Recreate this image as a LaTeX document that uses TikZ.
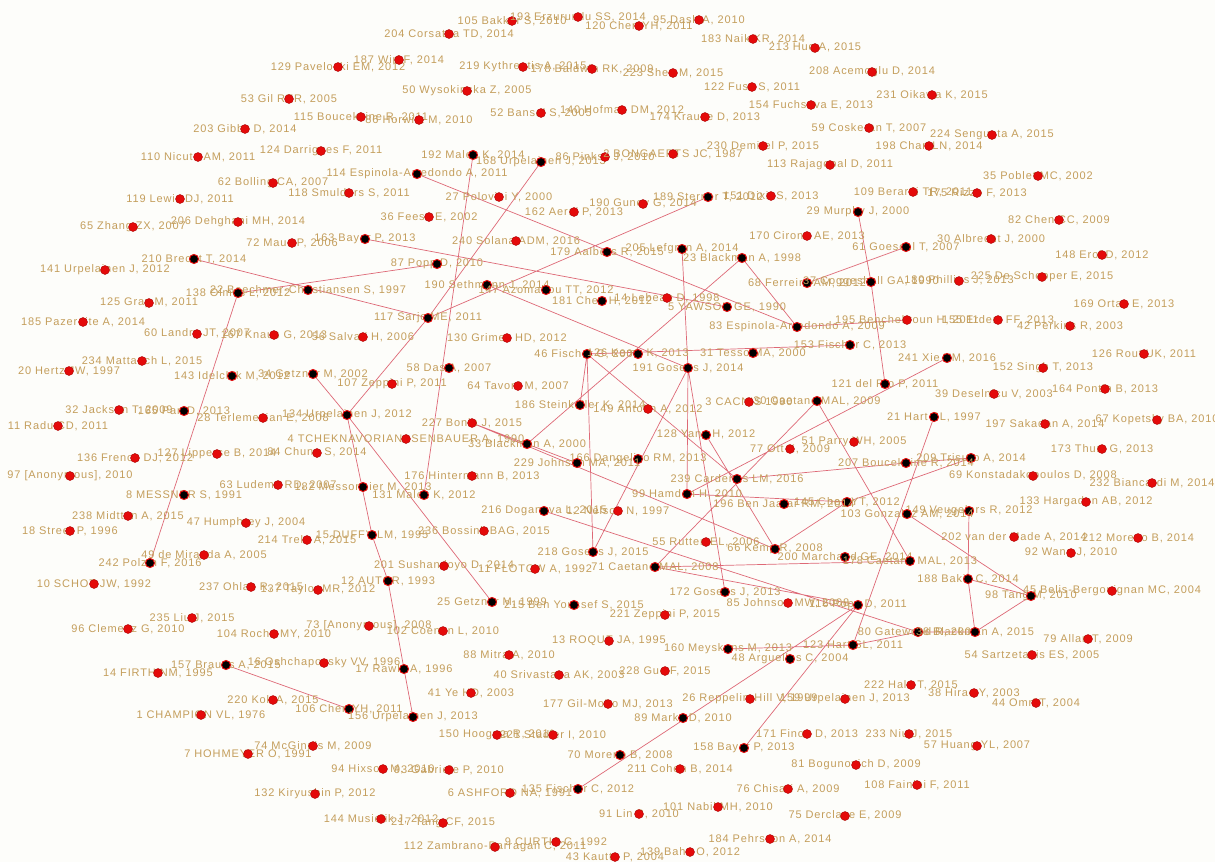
\documentclass[tikz,border=0pt]{standalone}
\usepackage{fontspec}
\setmainfont{Liberation Sans}
\newfontfamily\labfont[LetterSpace=8]{Liberation Sans}
\definecolor{labc}{RGB}{196,158,92}
\definecolor{dotr}{RGB}{228,10,10}
\definecolor{edgec}{RGB}{222,105,118}
\definecolor{bgc}{RGB}{253,253,250}
\pgfdeclarelayer{bg}\pgfdeclarelayer{edges}
\pgfsetlayers{bg,edges,main}
\tikzset{
 lab/.style={text=labc,font=\labfont\fontsize{11}{12}\selectfont,inner sep=0pt},
 rdot/.style={circle,fill=dotr,draw=dotr!75!black,line width=0.4pt,minimum size=9pt,inner sep=0pt},
 bdot/.style={circle,fill=black,draw=dotr,line width=1pt,minimum size=9pt,inner sep=0pt},
 edge/.style={draw=edgec,line width=0.7pt}}
\newcommand\RN[4]{\node[lab] (l#1) at (#2,#3) {#4};\node[rdot] (#1) at (#2,#3) {};}
\newcommand\BN[4]{\node[lab] (l#1) at (#2,#3) {#4};\node[bdot] (#1) at (#2,#3) {};}
\begin{document}
\begin{tikzpicture}[x=1pt,y=-1pt]
\begin{pgfonlayer}{bg}\fill[bgc] (0,0) rectangle (1215,862);\end{pgfonlayer}
\useasboundingbox (0,0) rectangle (1215,862);
\clip (0,0) rectangle (1215,862);
% top
\RN{n105}{512}{21}{105 Bakker S, 2010}
\RN{n193}{578}{17}{193 Erzurumlu SS, 2014}
\RN{n120}{639}{26}{120 Chen YH, 2011}
\RN{n95}{699}{20}{95 Dash A, 2010}
\RN{n183}{753}{39}{183 Naik KR, 2014}
\RN{n213}{815}{48}{213 Huq A, 2015}
\RN{n204}{449}{34}{204 Corsatea TD, 2014}
\RN{n129}{338}{67}{129 Paveloski EM, 2012}
\RN{n187}{399}{60}{187 Wirl F, 2014}
\RN{n219}{523}{67}{219 Kythreotis A, 2015}
\RN{n178b}{592}{69}{178 Baldwin RK, 2009}
\RN{n223}{673}{73}{223 Shen M, 2015}
\RN{n208}{872}{72}{208 Acemoglu D, 2014}
\RN{n53}{289}{99}{53 Gil RER, 2005}
\RN{n50}{467}{91}{50 Wysokinska Z, 2005}
\RN{n122}{752}{87}{122 Fuss S, 2011}
\RN{n231}{932}{95}{231 Oikawa K, 2015}
\RN{n154}{811}{105}{154 Fuchsova E, 2013}
\RN{n52}{541}{113}{52 Bansal S, 2005}
\RN{n140}{622}{110}{140 Hofman DM, 2012}
\RN{n115}{361}{117}{115 Boucekkine R, 2011}
\RN{n86h}{419}{120}{86 Horwitz M, 2010}
\RN{n174}{705}{117}{174 Krause D, 2013}
\RN{n59}{869}{128}{59 Coskeran T, 2007}
\RN{n203}{245}{129}{203 Gibbs D, 2014}
\RN{n224}{992}{135}{224 Sengupta A, 2015}
\RN{n230}{763}{146}{230 Demirel P, 2015}
\RN{n198}{929}{146}{198 Chan LN, 2014}
\RN{n124}{321}{151}{124 Darrigues F, 2011}
\RN{n110}{198}{157}{110 Nicuta AM, 2011}
\BN{n192}{473}{155}{192 Malek K, 2014}
\BN{n168}{541}{162}{168 Urpelainen J, 2013}
\RN{n86}{605}{157}{86 Pinkse J, 2010}
\RN{n2}{673}{154}{2 BONGAERTS JC, 1987}
\RN{n113}{830}{165}{113 Rajagopal D, 2011}
\BN{n114}{417}{174}{114 Espinola-Arredondo A, 2011}
\RN{n35}{1038}{176}{35 Poblet MC, 2002}
\RN{n62}{273}{183}{62 Bolling CA, 2007}
\RN{n109}{913}{192}{109 Berardi TR, 2011}
\RN{n175}{977}{193}{175 Rizzo F, 2013}
\RN{n118}{349}{193}{118 Smulders S, 2011}
\RN{n27}{499}{197}{27 Polovini Y, 2000}
\BN{n189}{708}{197}{189 Sterner T, 2012}
\RN{n151}{771}{196}{151 Dixit S, 2013}
\RN{n119}{180}{199}{119 Lewis DJ, 2011}
\RN{n190g}{643}{204}{190 Guney G, 2014}
\BN{n29}{858}{212}{29 Murphy J, 2000}
\RN{n162}{574}{212}{162 Aerni P, 2013}
\RN{n36}{429}{217}{36 Feess E, 2002}
\RN{n82}{1059}{220}{82 Chen CC, 2009}
\RN{n206}{238}{222}{206 Dehghani MH, 2014}
\RN{n65}{133}{227}{65 Zhang ZX, 2007}
\RN{n170}{807}{236}{170 Cirone AE, 2013}
\BN{n163}{365}{239}{163 Bayer P, 2013}
\RN{n30}{991}{239}{30 Albrecht J, 2000}
\RN{n240}{516}{241}{240 Solana ADM, 2016}
\RN{n72}{292}{243}{72 Maus P, 2006}
\BN{n61}{906}{247}{61 Goeschl T, 2007}
\BN{n205}{682}{249}{205 Lefgren A, 2014}
\BN{n179}{607}{252}{179 Aalbers R, 2015}
\RN{n148}{1102}{255}{148 Erol D, 2012}
\BN{n23}{742}{258}{23 Blackman A, 1998}
\BN{n210}{194}{259}{210 Brecht T, 2014}
\BN{n87}{437}{264}{87 Popp D, 2010}
\RN{n141}{105}{270}{141 Urpelainen J, 2012}
\RN{n225}{1042}{277}{225 De Schepper E, 2015}
\RN{n180}{959}{281}{180 Phillips J, 2013}
\BN{n68}{807}{283}{68 Ferreira AM, 2012}
\BN{n37}{871}{282}{37 Coggeshall GA, 1990}
\BN{n190}{487}{285}{190 Sethmann J, 2014}
\BN{n22}{308}{290}{22 Boechmer-Christiansen S, 1997}
\BN{n147}{546}{290}{147 Azomahou TT, 2012}
\BN{n138}{238}{293}{138 Olmos L, 2012}
\RN{n14l}{667}{298}{14 Lebeau D, 1998}
\BN{n181}{602}{301}{181 Chen H, 2012}
\RN{n125}{149}{303}{125 Gray M, 2011}
\RN{n169}{1124}{304}{169 Ortas E, 2013}
\BN{n5}{727}{307}{5 YAWSON GE, 1990}
\BN{n117}{428}{318}{117 Sarjo ME, 2011}
\RN{n195}{907}{320}{195 Benchekroun H, 2011}
\RN{n155}{998}{320}{155 Erdem FF, 2013}
\RN{n185}{83}{322}{185 Pazeraite A, 2014}
\RN{n42}{1070}{326}{42 Perkins R, 2003}
\BN{n83}{797}{327}{83 Espinola-Arredondo A, 2009}
\RN{n60}{197}{334}{60 Landry JT, 2007}
\RN{n167}{274}{335}{167 Knaus G, 2013}
\RN{n56}{363}{337}{56 Salvati H, 2006}
\RN{n130}{507}{338}{130 Grimes HD, 2012}
\BN{n153}{850}{345}{153 Fischer C, 2013}
\BN{n46}{587}{354}{46 Fischer C, 2008}
\BN{nK}{638}{354}{126 Kemp K, 2013}
\BN{n31}{753}{353}{31 Tesso MA, 2000}
\RN{n126}{1144}{354}{126 Rout UK, 2011}
\BN{n241}{947}{358}{241 Xie YM, 2016}
\RN{n234}{142}{361}{234 Mattauch L, 2015}
\BN{n58}{449}{368}{58 Das A, 2007}
\BN{n191}{688}{368}{191 Gosens J, 2014}
\RN{n152}{1043}{368}{152 Singh T, 2013}
\RN{n20}{69}{371}{20 Hertz JW, 1997}
\BN{n34}{313}{374}{34 Getzner M, 2002}
\BN{n143}{232}{376}{143 Idelchik M, 2012}
\BN{n121}{885}{384}{121 del Rio P, 2011}
\RN{n107}{392}{384}{107 Zeppini P, 2011}
\RN{n64}{518}{386}{64 Tavoni M, 2007}
\RN{n164}{1105}{389}{164 Pontin B, 2013}
\RN{n39}{994}{394}{39 Deselnicu V, 2003}
\RN{n3}{749}{402}{3 CACNIS 1990}
\BN{nCa}{817}{401}{30 Caetano MAL, 2009}
\BN{n186}{580}{405}{186 Steinkeller K, 2014}
\RN{n149a}{648}{409}{149 Antolin A, 2012}
\RN{n32}{119}{410}{32 Jackson T, 2009}
\BN{n165}{184}{411}{165 Pan D, 2013}
\BN{n134}{347}{415}{134 Urpelainen J, 2012}
\BN{n21}{934}{417}{21 Hart SL, 1997}
\RN{n28}{263}{418}{28 Terlemezian E, 2008}
\RN{n67}{1157}{420}{67 Kopetsky BA, 2010}
\RN{n227}{472}{423}{227 Bonin J, 2015}
\RN{n197}{1045}{424}{197 Sakadan A, 2014}
\RN{n11}{58}{426}{11 Radu CD, 2011}
\BN{n128}{706}{435}{128 Yang H, 2012}
\RN{n4}{406}{439}{4 TCHEKNAVORIANASENBAUER A, 1990}
\RN{n51}{854}{442}{51 Parry WH, 2005}
\BN{n33}{527}{444}{33 Blackman A, 2000}
\RN{n77}{790}{449}{77 Ott K, 2009}
\RN{n173}{1102}{449}{173 Thum G, 2013}
\RN{n84}{317}{453}{84 Chung S, 2014}
\RN{n127}{217}{454}{127 Lipperse B, 2014}
\RN{n136}{135}{458}{136 French DJ, 2012}
\BN{n209}{971}{458}{209 Trisuro A, 2014}
\BN{n166}{638}{459}{166 Dangelico RM, 2013}
\BN{n207}{906}{463}{207 Boucekkine R, 2014}
\BN{n229}{577}{463}{229 Johnson MA, 2011}
\RN{n97}{70}{476}{97 [Anonymous], 2010}
\RN{n176}{472}{476}{176 Hintermann B, 2013}
\RN{n69}{1033}{476}{69 Konstadakopoulos D, 2008}
\BN{n239}{737}{479}{239 Cardenas LM, 2016}
\RN{n232}{1152}{483}{232 Biancardi M, 2014}
\RN{n63}{278}{485}{63 Ludema RD, 2007}
\BN{n182}{363}{487}{182 Messonnier M, 2013}
\BN{n99}{687}{494}{99 Hamdan H, 2010}
\BN{n131}{424}{495}{131 Malek K, 2012}
\BN{n8}{184}{495}{8 MESSNER S, 1991}
\BN{n145}{847}{502}{145 Chen YT, 2012}
\RN{n133}{1086}{502}{133 Hargadon AB, 2012}
\BN{n196}{784}{504}{196 Ben Jaafar RM, 2014}
\BN{n216}{544}{511}{216 Doganova L, 2015}
\RN{n12n}{618}{511}{12 Nelson N, 1997}
\BN{n149v}{969}{511}{149 Veugelers R, 2012}
\BN{n103}{907}{514}{103 Gonzalez AM, 2014}
\RN{n238}{128}{516}{238 Midttun A, 2015}
\RN{n47}{246}{523}{47 Humphrey J, 2004}
\RN{n18}{70}{531}{18 Street P, 1996}
\RN{n236}{484}{531}{236 Bossink BAG, 2015}
\BN{n15}{372}{535}{15 DUFFY LM, 1995}
\RN{n202}{1014}{537}{202 van der Made A, 2014}
\RN{n212}{1138}{538}{212 Moreno B, 2014}
\RN{n214}{307}{540}{214 Trela A, 2015}
\RN{n55}{706}{542}{55 Rutten EL, 2006}
\BN{n66}{775}{549}{66 Kemp R, 2008}
\BN{n218}{593}{552}{218 Gosens J, 2015}
\RN{n92}{1071}{553}{92 Wang J, 2010}
\RN{n49}{204}{555}{49 de Miranda A, 2005}
\BN{n200}{845}{557}{200 Marchand GE, 2014}
\BN{n178c}{910}{561}{178 Caetano MAL, 2013}
\BN{n242}{150}{563}{242 Polzin F, 2016}
\RN{n201}{444}{566}{201 Sushandoyo D, 2014}
\BN{n71}{655}{567}{71 Caetano MAL, 2008}
\RN{n11f}{535}{569}{11 FLOTOW A, 1992}
\BN{n188}{968}{579}{188 Bakic C, 2014}
\BN{n12}{388}{581}{12 AUTOR, 1993}
\RN{n10}{94}{584}{10 SCHOT JW, 1992}
\RN{n237}{251}{587}{237 Ohlan R, 2015}
\RN{n137}{318}{590}{137 Taylor MR, 2012}
\RN{n45}{1112}{591}{45 Belis-Bergouignan MC, 2004}
\BN{n172}{725}{592}{172 Gosens J, 2013}
\BN{n98}{1031}{596}{98 Tang M, 2010}
\BN{n25}{492}{602}{25 Getzner M, 1999}
\RN{n85}{788}{603}{85 Johnson MW, 2008}
\BN{n215}{574}{605}{215 Ben Youssef S, 2015}
\BN{n116}{858}{605}{116 Popp D, 2011}
\RN{n221}{665}{615}{221 Zeppini P, 2015}
\RN{n235}{192}{618}{235 Liu J, 2015}
\RN{n73}{369}{626}{73 [Anonymous], 2008}
\RN{n96}{128}{629}{96 Clemenz G, 2010}
\RN{n102}{443}{631}{102 Coenen L, 2010}
\BN{n80}{918}{632}{80 Gatewood R, 2009}
\BN{nBl}{975}{632}{38 Blackman A, 2015}
\RN{n104}{274}{634}{104 Roche MY, 2010}
\RN{n79}{1088}{639}{79 Allan T, 2009}
\RN{n13}{609}{641}{13 ROQUE JA, 1995}
\BN{n123}{853}{645}{123 Hart SL, 2011}
\BN{n160}{728}{649}{160 Meyskens M, 2013}
\RN{n88}{509}{655}{88 Mitra A, 2010}
\RN{n54}{1032}{655}{54 Sartzetakis ES, 2005}
\BN{n48}{790}{659}{48 Arguelles C, 2004}
\RN{n16}{324}{663}{16 Oshchapovsky VV, 1996}
\BN{n157}{226}{665}{157 Brauns A, 2015}
\BN{n17}{404}{669}{17 Rawls A, 1996}
\RN{n228}{665}{671}{228 Guo F, 2015}
\RN{n14f}{158}{673}{14 FIRTH NM, 1995}
\RN{n40}{559}{675}{40 Srivastava AK, 2003}
\RN{n222}{911}{685}{222 Hale T, 2015}
\RN{n41}{471}{693}{41 Ye HD, 2003}
\RN{n38}{974}{693}{38 Hirao Y, 2003}
\RN{n26}{750}{699}{26 Reppelin-Hill V, 1999}
\RN{nU}{845}{699}{159 Urpelainen J, 2013}
\RN{n220}{273}{700}{220 Kok A, 2015}
\RN{n44}{1036}{703}{44 Omri T, 2004}
\RN{n177}{608}{704}{177 Gil-Molto MJ, 2013}
\BN{n106}{349}{709}{106 Chen YH, 2011}
\RN{n1}{201}{715}{1 CHAMPION VL, 1976}
\BN{n156}{413}{717}{156 Urpelainen J, 2013}
\BN{n89}{683}{718}{89 Marks D, 2010}
\RN{n171}{807}{734}{171 Finon D, 2013}
\RN{n233}{909}{734}{233 Niu J, 2015}
\RN{n150}{497}{735}{150 Hoogma R, 2011}
\RN{n221s}{553}{735}{221 Stadler I, 2010}
\RN{n74}{313}{746}{74 McGinnis M, 2009}
\RN{n57}{977}{746}{57 Huang YL, 2007}
\BN{n158}{744}{748}{158 Bayer P, 2013}
\RN{n7}{248}{754}{7 HOHMEYER O, 1991}
\BN{n70}{620}{755}{70 Moreno B, 2008}
\RN{n81}{856}{765}{81 Bogunovich D, 2009}
\RN{n94}{383}{769}{94 Hixson M, 2010}
\RN{n93}{449}{770}{93 Gabriele P, 2010}
\RN{n211}{680}{769}{211 Cohen B, 2014}
\RN{n108}{917}{785}{108 Fainini F, 2011}
\BN{n135}{578}{789}{135 Fischer C, 2012}
\RN{n76}{788}{789}{76 Chisari A, 2009}
\RN{n6}{510}{793}{6 ASHFORD NA, 1991}
\RN{n132}{315}{794}{132 Kiryushin P, 2012}
\RN{n101}{718}{807}{101 Nabil MH, 2010}
\RN{n91}{639}{814}{91 Lin B, 2010}
\RN{n75}{845}{816}{75 Derclaye E, 2009}
\RN{n144}{381}{819}{144 Musiolik J, 2012}
\RN{n217}{443}{823}{217 Tang CF, 2015}
\RN{n184}{770}{839}{184 Pehrsson A, 2014}
\RN{n9}{556}{842}{9 CURTIS C, 1992}
\RN{n112}{495}{847}{112 Zambrano-Barragan C, 2011}
\RN{n139}{690}{852}{139 Bahn O, 2012}
\RN{n43}{615}{857}{43 Kautto P, 2004}
\begin{pgfonlayer}{edges}
\draw[edge] (n138)--(n242) (n210)--(n117) (n87)--(n138) (n34)--(n134) (n134)--(n25)
 (n134)--(n117) (n117)--(n168) (n134)--(n15) (n15)--(n12) (n12)--(n17) (n17)--(n156)
 (n192)--(n131) (n114)--(n83) (n157)--(n106) (n33)--(n23) (n227)--(n33) (n33)--(n229)
 (n227)--(n66) (n205)--(n191) (n191)--(n99) (n191)--(n172) (n218)--(n191) (n135)--(n116)
 (n158)--(n116) (n123)--(n21) (n160)--(n123) (n123)--(n80) (n80)--(nBl)
 (nBl)--(n188) (nBl)--(n98) (n188)--(n98) (n149v)--(n188) (n103)--(n98)
 (n61)--(n68) (n29)--(n37) (n37)--(n121) (n189)--(n117) (n163)--(n5)
 (n186)--(n46) (n46)--(n218) (n216)--(n80) (n71)--(n178c) (n128)--(n66) (n66)--(n145)
 (n46)--(n239) (n99)--(n145) (n239)--(n207) (nCa)--(n178c) (n71)--(nCa) (n241)--(n99)
 (n207)--(n209) (n209)--(n145) (n23)--(n83) (n83)--(n195) (n46)--(n153) (n190)--(n191)
 (n71)--(n116);
\end{pgfonlayer}
\end{tikzpicture}
\end{document}
